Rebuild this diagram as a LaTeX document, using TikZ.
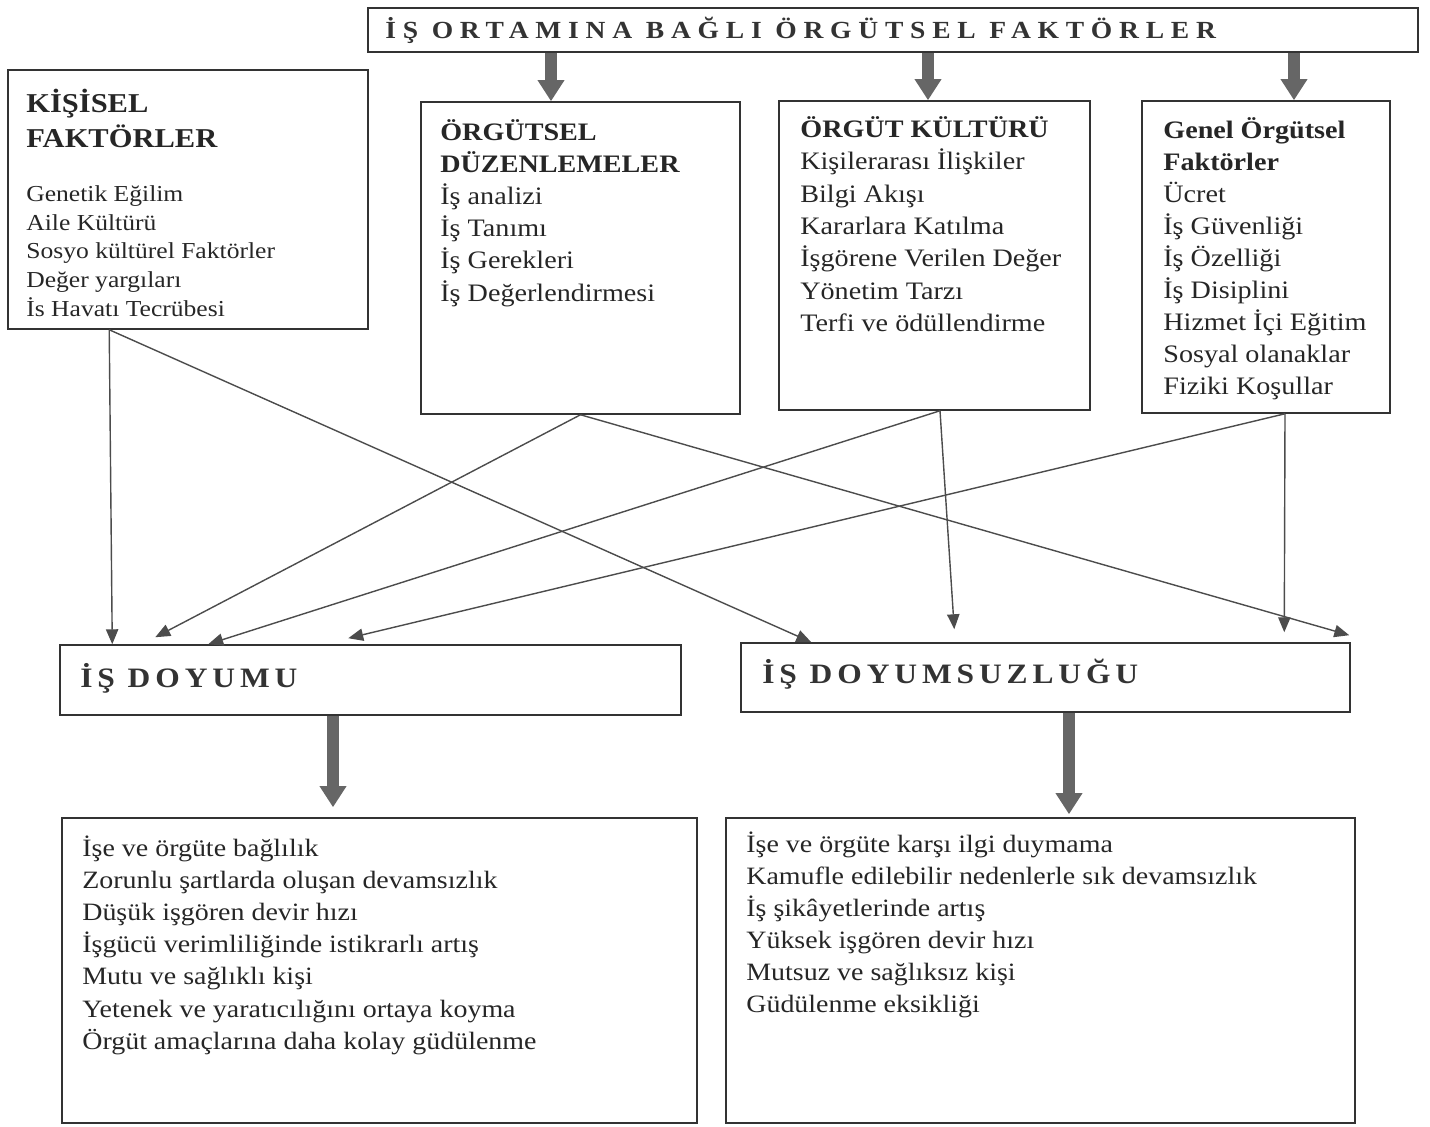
\documentclass[tikz,border=0pt]{standalone}
\usepackage{fontspec}
\setmainfont{Liberation Serif}[FakeStretch=1.12]
\usetikzlibrary{arrows.meta}

\begin{document}
\begin{tikzpicture}[
        x=0.02cm, y=-0.02cm,
        kutu/.style={draw=black!80, line width=0.9pt, inner sep=0pt},
        yazi/.style={anchor=north west, inner sep=0pt, align=left, text=black!85},
        baslik/.style={anchor=base west, inner sep=0pt, text=black!80, font=\fontsize{14}{16}\selectfont\bfseries\addfontfeature{LetterSpace=27.5}},
        ince/.style={-{Triangle[length=8.5pt,width=7pt]}, draw=black!70, line width=0.8pt},
        kalin/.style={-{Triangle[length=12pt,width=14.5pt]}, draw=black!60, line width=6.8pt}
    ]
        \useasboundingbox (0,0) rectangle (1430,1126);

        % boxes
        \node[kutu, minimum width=21cm, minimum height=0.88cm] (ust) at (893,30) {};
        \node[kutu, minimum width=7.2cm, minimum height=5.18cm] (kisisel) at (188,199.5) {};
        \node[kutu, minimum width=6.38cm, minimum height=6.24cm] (orgduz) at (580.5,258) {};
        \node[kutu, minimum width=6.22cm, minimum height=6.18cm] (kultur) at (934.5,255.5) {};
        \node[kutu, minimum width=4.96cm, minimum height=6.24cm] (genel) at (1266,257) {};
        \node[kutu, minimum width=12.42cm, minimum height=1.4cm] (doyum) at (370.5,680) {};
        \node[kutu, minimum width=12.18cm, minimum height=1.38cm] (doyumsuz) at (1045.5,677.5) {};
        \node[kutu, minimum width=12.7cm, minimum height=6.1cm] (sonuc1) at (379.5,970.5) {};
        \node[kutu, minimum width=12.58cm, minimum height=6.1cm] (sonuc2) at (1040.5,970.5) {};

        % texts
        \node[baslik] (ust-yazi) at (385,38) {İŞ ORTAMINA BAĞLI ÖRGÜTSEL FAKTÖRLER};
        \node[yazi, font=\fontsize{15.5}{19.8}\selectfont\bfseries] (kis-baslik) at (26,87.6) {\strut KİŞİSEL\\FAKTÖRLER};
        \node[yazi, font=\fontsize{13}{16.4}\selectfont] (kis-liste) at (26,180.7) {\strut Genetik Eğilim\\Aile Kültürü\\Sosyo kültürel Faktörler\\Değer yargıları\\İs Havatı Tecrübesi};
        \node[yazi, font=\fontsize{14.3}{18.3}\selectfont] (org-liste) at (440,117.4) {\strut\textbf{ÖRGÜTSEL}\\\textbf{DÜZENLEMELER}\\İş analizi\\İş Tanımı\\İş Gerekleri\\İş Değerlendirmesi};
        \node[yazi, font=\fontsize{14.3}{18.4}\selectfont] (kul-liste) at (800,114.4) {\strut\textbf{ÖRGÜT KÜLTÜRÜ}\\Kişilerarası İlişkiler\\Bilgi Akışı\\Kararlara Katılma\\İşgörene Verilen Değer\\Yönetim Tarzı\\Terfi ve ödüllendirme};
        \node[yazi, font=\fontsize{14.3}{18.2}\selectfont] (gen-liste) at (1163,116) {\strut\textbf{Genel Örgütsel}\\\textbf{Faktörler}\\Ücret\\İş Güvenliği\\İş Özelliği\\İş Disiplini\\Hizmet İçi Eğitim\\Sosyal olanaklar\\Fiziki Koşullar};
        \node[baslik, font=\fontsize{16}{18}\selectfont\bfseries\addfontfeature{LetterSpace=17.4}] (doyum-yazi) at (80,687) {İŞ DOYUMU};
        \node[baslik, font=\fontsize{16}{18}\selectfont\bfseries\addfontfeature{LetterSpace=17.4}] (doyumsuz-yazi) at (762,683) {İŞ DOYUMSUZLUĞU};
        \node[yazi, font=\fontsize{14.2}{18.3}\selectfont] (sonuc1-liste) at (82,833.4) {\strut İşe ve örgüte bağlılık\\Zorunlu şartlarda oluşan devamsızlık\\Düşük işgören devir hızı\\İşgücü verimliliğinde istikrarlı artış\\Mutu ve sağlıklı kişi\\Yetenek ve yaratıcılığını ortaya koyma\\Örgüt amaçlarına daha kolay güdülenme};
        \node[yazi, font=\fontsize{14.2}{18.3}\selectfont] (sonuc2-liste) at (746,829.3) {\strut İşe ve örgüte karşı ilgi duymama\\Kamufle edilebilir nedenlerle sık devamsızlık\\İş şikâyetlerinde artış\\Yüksek işgören devir hızı\\Mutsuz ve sağlıksız kişi\\Güdülenme eksikliği};

        % thick arrows
        \coordinate (o1) at ([xshift=-0.59cm]orgduz.north);
        \coordinate (o2) at ([xshift=-0.13cm]kultur.north);
        \coordinate (o3) at ([xshift=0.56cm]genel.north);
        \coordinate (o4) at ([xshift=-0.75cm]doyum.south);
        \coordinate (o5) at ([xshift=0.47cm]doyumsuz.south);
        \draw[kalin] (ust.south -| o1) -- (o1);
        \draw[kalin] (ust.south -| o2) -- (o2);
        \draw[kalin] (ust.south -| o3) -- (o3);
        \draw[kalin, shorten >=0.2cm] (o4) -- (sonuc1.north -| o4);
        \draw[kalin, shorten >=0.06cm] (o5) -- (sonuc2.north -| o5);

        % thin arrows
        \coordinate (kis-cikis) at ([xshift=2.04cm]kisisel.south west);
        \coordinate (kul-cikis) at ([xshift=0.11cm]kultur.south);
        \coordinate (gen-cikis) at ([xshift=0.38cm]genel.south);
        \coordinate (d-kis) at ([xshift=1.06cm]doyum.north west);
        \coordinate (d-org) at ([shift={(96,-7)}]doyum.north west);
        \coordinate (d-kul) at ([xshift=2.98cm]doyum.north west);
        \coordinate (d-gen) at ([shift={(289,-6)}]doyum.north west);
        \coordinate (s-kis) at ([xshift=1.42cm]doyumsuz.north west);
        \coordinate (s-kul) at ([shift={(214,-13)}]doyumsuz.north west);
        \coordinate (s-gen) at ([shift={(544,-10)}]doyumsuz.north west);
        \coordinate (s-org) at ([shift={(609,-7)}]doyumsuz.north west);
        \draw[ince] (kis-cikis) -- (d-kis);
        \draw[ince] (kis-cikis) -- (s-kis);
        \draw[ince] (orgduz.south) -- (d-org);
        \draw[ince] (orgduz.south) -- (s-org);
        \draw[ince] (kul-cikis) -- (d-kul);
        \draw[ince] (kul-cikis) -- (s-kul);
        \draw[ince] (gen-cikis) -- (d-gen);
        \draw[ince] (gen-cikis) -- (s-gen);
    \end{tikzpicture}
\end{document}
